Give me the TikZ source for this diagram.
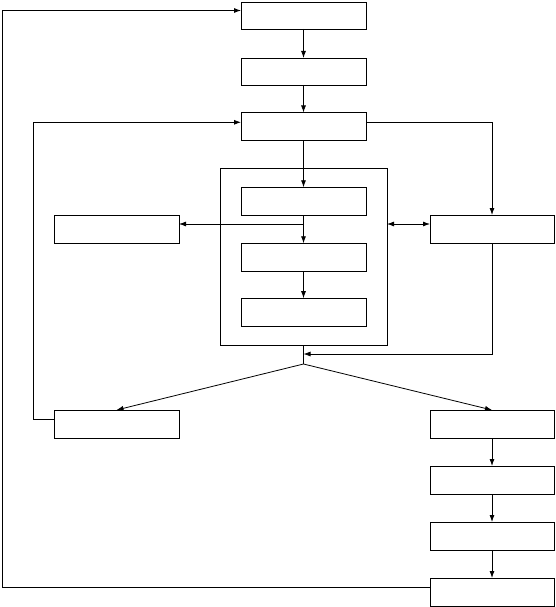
\documentclass[tikz,border=0pt]{standalone}
\usetikzlibrary{arrows.meta}
\begin{document}
\begin{tikzpicture}[x=1pt,y=-1pt,
  box/.style={draw, line width=0.8pt, minimum width=125pt, minimum height=27pt, inner sep=0pt, outer sep=0pt},
  rbox/.style={box, minimum width=124pt, minimum height=28pt},
  arr/.style={-{Latex[length=7pt,width=5pt]}, line width=0.8pt},
  dblarr/.style={{Latex[length=7pt,width=5pt]}-{Latex[length=7pt,width=5pt]}, line width=0.8pt},
  ln/.style={line width=0.8pt}]
\useasboundingbox (0,0) rectangle (555,607);
% main column
\node[box] (b1) at (303.5,15.5) {};
\node[box] (b2) at (303.5,71.5) {};
\node[box, minimum height=28pt] (b3) at (303.5,126.5) {};
\node[draw, line width=0.8pt, minimum width=167pt, minimum height=177pt, inner sep=0pt, outer sep=0pt] (frame) at (303.5,256.5) {};
\node[box, minimum height=28pt] (i1) at (303.5,201.3) {};
\node[box, minimum height=28pt] (i2) at (303.5,257.3) {};
\node[box, minimum height=28pt] (i3) at (303.5,312.2) {};
% side boxes
\node[box, minimum height=28pt] (L) at (116.5,229) {};
\node[rbox] (R) at (492,229) {};
\node[box, minimum height=28pt] (LB) at (116.5,424) {};
\node[rbox] (R1) at (492,424) {};
\node[rbox] (R2) at (492,480) {};
\node[rbox] (R3) at (492,536) {};
\node[rbox] (R4) at (492,592) {};
% coordinates
\coordinate (j1) at (303.5,224);
\coordinate (m) at (303.5,354);
\coordinate (j2) at (303.5,364);
\coordinate (c1) at (33,122.3);
\coordinate (c2) at (2,10.5);
% connectors
\draw[arr] (b1) -- (b2);
\draw[arr] (b2) -- (b3);
\draw[arr] (b3) -- (i1);
\draw[arr] (i1) -- (i2);
\draw[arr] (j1) -- (L.east |- j1);
\draw[arr] (i2) -- (i3);
\draw[dblarr] (frame.east |- j1) -- (R.west |- j1);
\draw[arr] (b3.east |- c1) -| (R.north);
\draw[arr] (R.south) |- (m);
\draw[ln] (frame.south) -- (j2);
\draw[arr] (j2) -- (LB.north);
\draw[arr] (j2) -- (R1.north);
\draw[arr] (R1) -- (R2);
\draw[arr] (R2) -- (R3);
\draw[arr] (R3) -- (R4);
\draw[arr] ([yshift=5pt]LB.west) -| (c1) -- (b3.west |- c1);
\draw[arr] ([yshift=5pt]R4.west) -| (c2) -- (b1.west |- c2);
\end{tikzpicture}
\end{document}
